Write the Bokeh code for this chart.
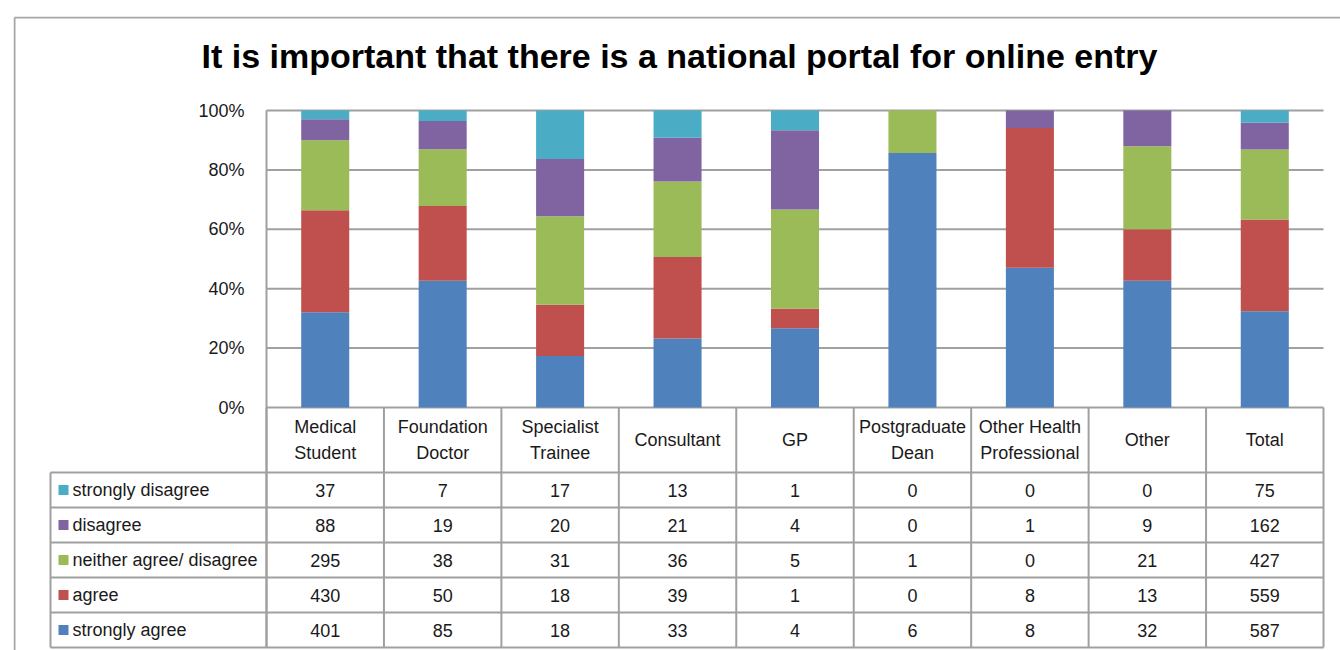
from bokeh.plotting import figure
from bokeh.models import ColumnDataSource, Range1d, FixedTicker, NumeralTickFormatter, LinearAxis, Label
from bokeh.embed import file_html
from bokeh.resources import INLINE
from bokeh.core.properties import value

# ---------------- data ----------------
categories = ["Medical\nStudent", "Foundation\nDoctor", "Specialist\nTrainee", "Consultant", "GP",
              "Postgraduate\nDean", "Other Health\nProfessional", "Other", "Total"]
strongly_agree = [401, 85, 18, 33, 4, 6, 8, 32, 587]
agree = [430, 50, 18, 39, 1, 0, 8, 13, 559]
neither = [295, 38, 31, 36, 5, 1, 0, 21, 427]
disagree = [88, 19, 20, 21, 4, 0, 1, 9, 162]
strongly_disagree = [37, 7, 17, 13, 1, 0, 0, 0, 75]
series_names = ["strongly agree", "agree", "neither agree/ disagree", "disagree", "strongly disagree"]
series_colors = ["#4F81BD", "#C0504D", "#9BBB59", "#8064A2", "#4BACC6"]
y_ticks = [0, 0.2, 0.4, 0.6, 0.8, 1.0]
title_text = "It is important that there is a national portal for online entry"

FONT = "Liberation Sans"
TXT = "#1a1a1a"
LINE = "#a0a0a0"

series_vals = [strongly_agree, agree, neither, disagree, strongly_disagree]
n = len(categories)
totals = [sum(v[i] for v in series_vals) for i in range(n)]
keys = ["s%d" % k for k in range(len(series_vals))]
data = {"x": [i + 0.5 for i in range(n)]}
for k, vals in zip(keys, series_vals):
    data[k] = [vals[i] / totals[i] for i in range(n)]
src = ColumnDataSource(data)

# ---------------- layout constants (pixels -> data units) ----------------
CAT = 1057 / 9.0           # px per category column
VPX = 297.0                # px per 100 %
HDR = 65 / VPX             # header row height
ROW = 35 / VPX             # table row height
LAB = 216 / CAT            # width of the label column
X0 = 266                   # canvas x of the value axis
Y0 = 407                   # canvas y of 0 %
FL, FT, FR, FB = 13, 16, 1340, 650   # frame edges on the canvas

x_range = Range1d((FL - X0) / CAT, (FR - X0) / CAT)
y_range = Range1d((Y0 - FB) / VPX, (Y0 - FT) / VPX)

p = figure(width=FR, height=FB, x_range=x_range, y_range=y_range,
           x_axis_type=None, y_axis_type=None, toolbar_location=None, output_backend="svg",
           min_border_left=FL, min_border_right=0, min_border_top=FT, min_border_bottom=0,
           outline_line_color=None)
p.grid.visible = False

# outer chart border (left and top)
bx = x_range.start + 1 / CAT
by = y_range.end - 1 / VPX
p.segment(x0=[bx, bx], y0=[y_range.start, by], x1=[bx, x_range.end], y1=[by, by],
          line_color="#a6a6a6", line_width=2)

# title
p.add_layout(Label(x=(679 - X0) / CAT, y=(Y0 - 55) / VPX, text=title_text, text_align="center",
                   text_baseline="middle", text_font=FONT, text_font_size="34px",
                   text_font_style="bold", text_color="#000000"))

# horizontal grid lines of the plot area
p.segment(x0=[0] * len(y_ticks), y0=y_ticks, x1=[n] * len(y_ticks), y1=y_ticks,
          line_color=LINE, line_width=2)

# stacked 100% bars
p.vbar_stack(keys, x="x", width=0.409, color=series_colors, line_color=None, source=src)

# value axis
bottom = -(HDR + ROW * len(series_vals))
yaxis = LinearAxis(fixed_location=0, ticker=FixedTicker(ticks=y_ticks),
                   formatter=NumeralTickFormatter(format="0%"), bounds=(bottom, 1))
yaxis.major_tick_out = 0
yaxis.major_tick_in = 0
yaxis.minor_tick_out = 0
yaxis.minor_tick_in = 0
yaxis.axis_line_color = LINE
yaxis.axis_line_width = 2
yaxis.major_label_standoff = 22
yaxis.major_label_text_font = FONT
yaxis.major_label_text_font_size = "18px"
yaxis.major_label_text_color = TXT
p.add_layout(yaxis, "left")

# data table lines
hy = [-(HDR + ROW * k) for k in range(len(series_vals) + 1)]
p.segment(x0=[-LAB] * len(hy), y0=hy, x1=[n] * len(hy), y1=hy, line_color=LINE, line_width=2)
vx = list(range(n + 1))
p.segment(x0=vx, y0=[0] * len(vx), x1=vx, y1=[bottom] * len(vx), line_color=LINE, line_width=2)
p.segment(x0=[-LAB], y0=[-HDR], x1=[-LAB], y1=[bottom], line_color=LINE, line_width=2)

# category header
p.text(x=data["x"], y=[-HDR / 2] * n, text=categories, text_align="center", text_baseline="middle",
       text_font=value(FONT), text_font_size="18px", text_color=TXT, text_line_height=1.3)

# table body
rows = list(range(len(series_vals)))[::-1]   # top row: strongly disagree
row_y = [-(HDR + ROW * (r + 0.5)) for r in range(len(rows))]
cx, cy, ct = [], [], []
for r, si in enumerate(rows):
    for i in range(n):
        cx.append(i + 0.5)
        cy.append(row_y[r])
        ct.append(str(series_vals[si][i]))
p.text(x=cx, y=cy, text=ct, text_align="center", text_baseline="middle",
       text_font=value(FONT), text_font_size="18px", text_color=TXT)
p.scatter(x=[-LAB + 13 / CAT] * len(rows), y=row_y, marker="square", size=10,
          color=[series_colors[si] for si in rows], line_color=None)
p.text(x=[-LAB + 22 / CAT] * len(rows), y=row_y, text=[series_names[si] for si in rows],
       text_align="left", text_baseline="middle",
       text_font=value(FONT), text_font_size="18px", text_color=TXT)

open("out.html", "w").write(file_html(p, INLINE))
